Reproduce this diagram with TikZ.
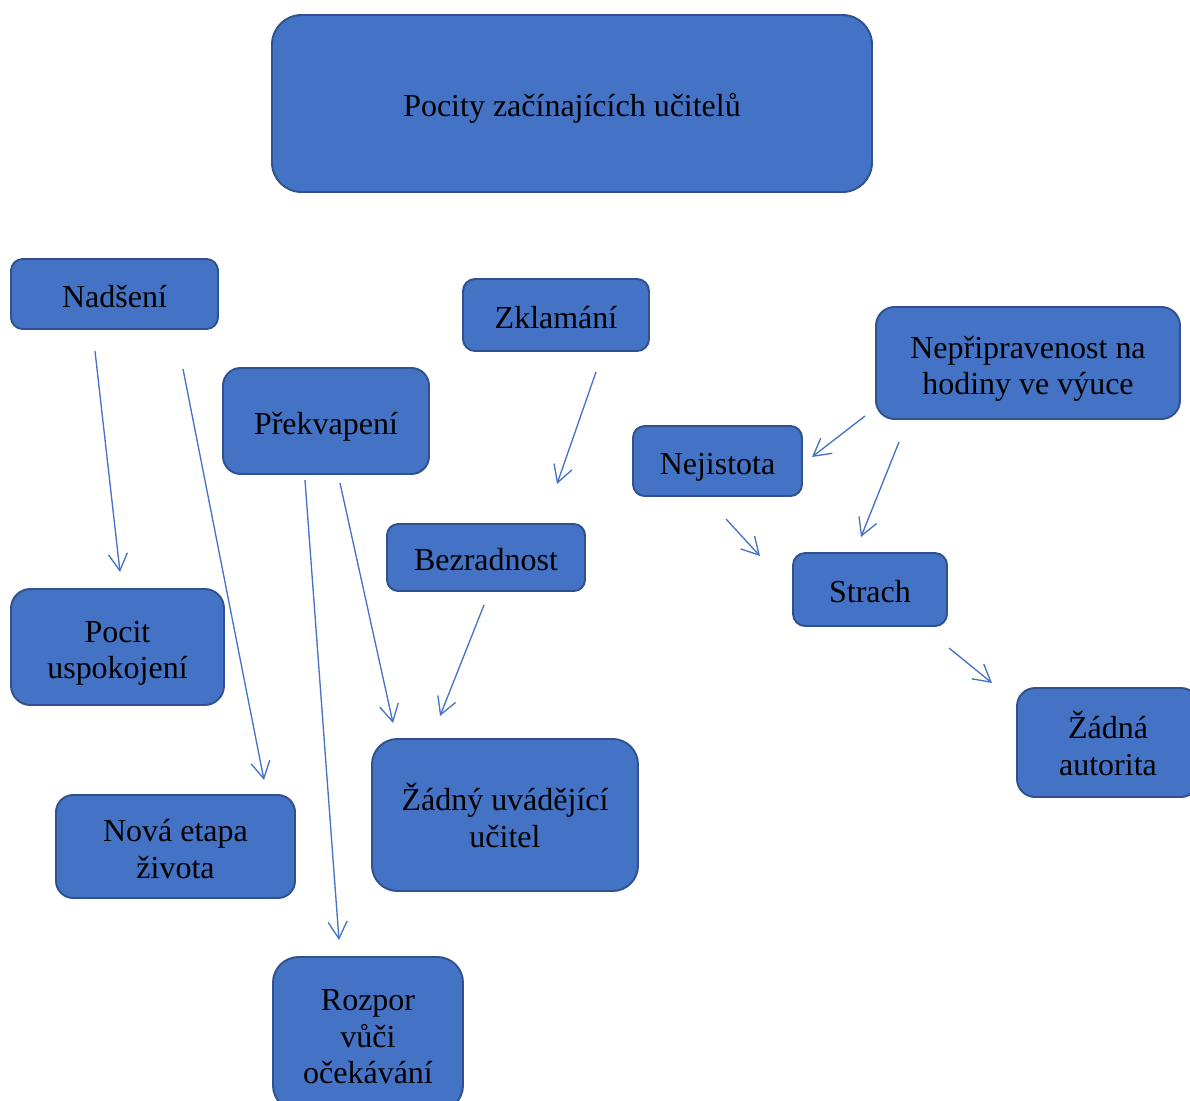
\documentclass[tikz,border=0pt]{standalone}
\usepackage{fontspec}
\setmainfont{Liberation Serif}
\usetikzlibrary{arrows.meta}
\definecolor{boxfill}{HTML}{4472C4}
\definecolor{boxline}{HTML}{2F528F}
\definecolor{linkcol}{HTML}{4472C4}
% centred block of lines, each line a full strut high, set a little low in its box
\newcommand{\boxtext}[1]{\raisebox{-3.4pt}[\height][\depth]{\begin{tabular}{@{}c@{}}#1\end{tabular}}}
\begin{document}
\begin{tikzpicture}[
  box/.style={draw=boxline, line width=1.1pt, fill=boxfill, text=black,
    inner sep=0pt,
    font=\fontsize{18.2}{20.8}\selectfont},
  link/.style={draw=linkcol, line width=0.75pt,
    -{Straight Barb[length=3.4mm,width=3.8mm]}}
]
\useasboundingbox (0,0) rectangle (23.8,-22.02);
\begin{scope}
\clip (0,0) rectangle (23.8,-22.02);
% boxes
\node[box, minimum width=12.0cm, minimum height=3.54cm, rounded corners=0.59cm] (title) at (11.44,-2.07) {\boxtext{Pocity začínajících učitelů}};
\node[box, minimum width=4.14cm, minimum height=1.40cm, rounded corners=0.233cm] (nadseni) at (2.29,-5.88) {\boxtext{Nadšení}};
\node[box, minimum width=3.72cm, minimum height=1.44cm, rounded corners=0.24cm] (zklamani) at (11.12,-6.30) {\boxtext{Zklamání}};
\node[box, minimum width=6.08cm, minimum height=2.24cm, rounded corners=0.373cm] (neprip) at (20.56,-7.26) {\boxtext{Nepřipravenost na\\hodiny ve výuce}};
\node[box, minimum width=4.12cm, minimum height=2.12cm, rounded corners=0.353cm] (prekvap) at (6.52,-8.42) {\boxtext{Překvapení}};
\node[box, minimum width=3.38cm, minimum height=1.40cm, rounded corners=0.233cm] (nejist) at (14.35,-9.22) {\boxtext{Nejistota}};
\node[box, minimum width=3.96cm, minimum height=1.34cm, rounded corners=0.223cm] (bezrad) at (9.72,-11.15) {\boxtext{Bezradnost}};
\node[box, minimum width=3.08cm, minimum height=1.46cm, rounded corners=0.243cm] (strach) at (17.40,-11.79) {\boxtext{Strach}};
\node[box, minimum width=4.26cm, minimum height=2.32cm, rounded corners=0.387cm] (pocit) at (2.35,-12.94) {\boxtext{Pocit\\uspokojení}};
\node[box, minimum width=3.64cm, minimum height=2.18cm, rounded corners=0.363cm] (autor) at (22.16,-14.85) {\boxtext{Žádná\\autorita}};
\node[box, minimum width=5.32cm, minimum height=3.04cm, rounded corners=0.507cm] (zadny) at (10.10,-16.30) {\boxtext{Žádný uvádějící\\učitel}};
\node[box, minimum width=4.78cm, minimum height=2.06cm, rounded corners=0.343cm] (nova) at (3.51,-16.93) {\boxtext{Nová etapa\\života}};
\node[box, minimum width=3.80cm, minimum height=3.08cm, rounded corners=0.513cm] (rozpor) at (7.36,-20.68) {\boxtext{Rozpor\\vůči\\očekávání}};
% free-standing arrow ends
\coordinate (a1s) at (1.90,-7.02);  \coordinate (a1e) at (2.40,-11.44);
\coordinate (a2s) at (3.66,-7.38);  \coordinate (a2e) at (5.28,-15.60);
\coordinate (a3s) at (6.10,-9.60);  \coordinate (a3e) at (6.78,-18.80);
\coordinate (a4s) at (6.80,-9.66);  \coordinate (a4e) at (7.86,-14.46);
\coordinate (a5s) at (9.68,-12.10); \coordinate (a5e) at (8.80,-14.32);
\coordinate (a6s) at (11.92,-7.44); \coordinate (a6e) at (11.14,-9.68);
\coordinate (a7s) at (17.30,-8.32); \coordinate (a7e) at (16.24,-9.14);
\coordinate (a8s) at (17.98,-8.84); \coordinate (a8e) at (17.22,-10.74);
\coordinate (a9s) at (14.52,-10.38); \coordinate (a9e) at (15.20,-11.12);
\coordinate (a10s) at (18.98,-12.96); \coordinate (a10e) at (19.84,-13.66);
% arrows
\foreach \i in {1,...,10} {
  \draw[link] (a\i s) -- (a\i e);
}
\end{scope}
\end{tikzpicture}
\end{document}
